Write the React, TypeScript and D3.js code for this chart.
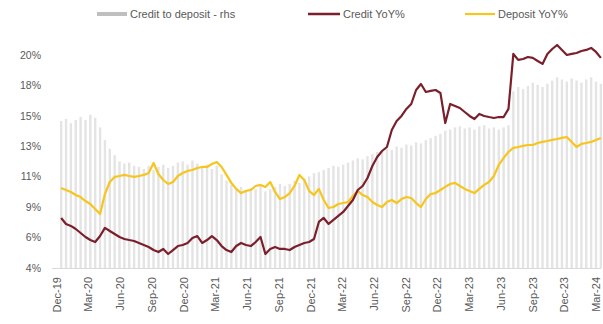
import React from "react";
import * as d3 from "d3";

const W = 603;
const H = 324;

// fortnightly observations starting 13 Dec 2019
const startDate = new Date(2019, 11, 13);

const creditYoY = [
  7.76, 7.31, 7.16, 6.93, 6.63, 6.33, 6.10, 5.95, 6.40, 7.01,
  6.78, 6.55, 6.33, 6.18, 6.10, 6.03, 5.88, 5.73, 5.58, 5.35,
  5.20, 5.43, 5.05, 5.35, 5.65, 5.73, 5.88, 6.25, 6.40, 5.88,
  6.10, 6.40, 6.10, 5.65, 5.35, 5.20, 5.65, 5.88, 5.73, 5.65,
  5.95, 6.33, 5.05, 5.43, 5.58, 5.43, 5.43, 5.35, 5.58, 5.73,
  5.88, 5.95, 6.18, 7.46, 7.76, 7.31, 7.61, 7.91, 8.21, 8.66,
  9.11, 9.86, 10.16, 10.76, 11.66, 12.34, 12.79, 13.09, 14.37, 15.04,
  15.42, 15.95, 16.32, 17.37, 17.82, 17.22, 17.30, 17.37, 17.15, 14.89,
  16.32, 16.17, 16.02, 15.72, 15.42, 15.19, 15.57, 15.42, 15.34, 15.27,
  15.34, 15.34, 15.95, 20.08, 19.63, 19.70, 19.85, 19.78, 19.55, 19.33,
  20.08, 20.45, 20.75, 20.38, 20.00, 20.08, 20.15, 20.30, 20.38, 20.53,
  20.23, 19.78,
];

const depositYoY = [
  10.01, 9.86, 9.71, 9.48, 9.33, 9.03, 8.81, 8.43, 8.06, 9.56,
  10.46, 10.84, 10.91, 10.99, 10.91, 10.84, 10.91, 10.99, 11.14, 11.89,
  11.06, 10.61, 10.31, 10.46, 10.91, 11.14, 11.29, 11.36, 11.51, 11.59,
  11.59, 11.81, 11.96, 11.59, 10.99, 10.39, 9.94, 9.63, 9.79, 9.86,
  10.16, 10.24, 10.09, 10.46, 9.71, 9.18, 9.33, 9.63, 10.16, 10.99,
  10.61, 9.79, 9.48, 9.94, 9.11, 8.51, 8.58, 8.81, 8.88, 8.96,
  9.41, 9.79, 9.48, 9.33, 8.96, 8.73, 8.58, 8.96, 9.11, 8.88,
  9.18, 9.33, 9.26, 8.88, 8.58, 9.18, 9.56, 9.63, 9.86, 10.09,
  10.31, 10.39, 10.16, 9.94, 9.79, 9.63, 9.94, 10.24, 10.46, 10.91,
  11.74, 12.26, 12.72, 13.02, 13.09, 13.17, 13.24, 13.24, 13.39, 13.47,
  13.54, 13.62, 13.69, 13.77, 13.84, 13.47, 13.09, 13.32, 13.39, 13.47,
  13.62, 13.77,
];

const creditToDeposit = [
  75.8, 76.0, 75.6, 75.9, 76.2, 75.9, 76.4, 76.1, 75.2, 74.0,
  73.2, 72.6, 72.0, 71.8, 71.9, 71.6, 71.5, 71.3, 71.6, 71.2,
  71.5, 71.7, 71.4, 71.6, 71.9, 72.0, 71.7, 72.1, 71.8, 71.5,
  71.7, 71.3, 71.6, 70.8, 70.2, 69.8, 69.5, 69.6, 69.3, 69.5,
  69.4, 69.7, 69.2, 69.4, 69.6, 69.9, 69.7, 69.9, 70.2, 70.0,
  70.4, 70.6, 70.9, 71.0, 71.2, 71.4, 71.6, 71.5, 71.7, 71.9,
  72.1, 72.3, 72.2, 72.5, 72.7, 72.9, 73.0, 73.2, 73.1, 73.4,
  73.3, 73.6, 73.5, 73.8, 73.7, 74.0, 74.2, 74.4, 74.6, 74.9,
  75.0, 75.2, 75.3, 75.1, 75.2, 75.0, 75.3, 75.4, 75.1, 75.2,
  75.0, 75.2, 75.4, 78.6, 79.0, 78.8, 79.1, 79.4, 79.2, 79.0,
  79.3, 79.6, 79.9, 79.7, 79.5, 79.8, 79.6, 79.4, 79.7, 79.9,
  79.5, 79.3,
];

const leftTickLabels = ["4%", "6%", "9%", "11%", "13%", "15%", "18%", "20%"];
const xTickLabels = [
  "Dec-19", "Mar-20", "Jun-20", "Sep-20", "Dec-20", "Mar-21", "Jun-21", "Sep-21", "Dec-21",
  "Mar-22", "Jun-22", "Sep-22", "Dec-22", "Mar-23", "Jun-23", "Sep-23", "Dec-23", "Mar-24",
];
const legendItems = ["Credit to deposit - rhs", "Credit YoY%", "Deposit YoY%"];
const colors = { bar: "#e4e4e4", barLegend: "#bfbfbf", credit: "#7b1f2c", deposit: "#f7c51e", text: "#595959" };

export default function App() {
  const dates = creditYoY.map((_, i) => d3.timeDay.offset(startDate, 14 * i));
  const x = d3.scaleTime().domain([new Date(2019, 11, 1), new Date(2024, 2, 1)]).range([57, 596]);
  const yL = d3.scaleLinear().domain([4, 20]).range([268, 55]);
  const yR = d3.scaleLinear().domain([62, 82]).range([268, 55]);

  const leftTicks = d3.range(leftTickLabels.length).map((i) => 4 + (i * 16) / (leftTickLabels.length - 1));
  const parseTick = d3.timeParse("%b-%y");
  const xTicks = xTickLabels.map((s) => parseTick(s) as Date);

  const line = d3
    .line<number>()
    .x((_, i) => x(dates[i]))
    .y((d) => yL(d))
    .curve(d3.curveLinear);

  const barW = 2.4;
  const font = "'Liberation Sans', Arial, sans-serif";

  const legendX = [97, 308, 465];

  return (
    <svg width={W} height={H} style={{ position: "absolute", left: 0, top: 0, background: "#fff" }}>
      <g>
        {creditToDeposit.map((v, i) => (
          <rect
            key={i}
            x={x(dates[i]) - barW / 2}
            y={yR(v)}
            width={barW}
            height={yR(62) - yR(v)}
            fill={colors.bar}
          />
        ))}
      </g>
      <line x1={52} x2={601} y1={268.5} y2={268.5} stroke="#d9d9d9" strokeWidth={1} />
      <path d={line(depositYoY) || ""} fill="none" stroke={colors.deposit} strokeWidth={2.2} strokeLinejoin="round" />
      <path d={line(creditYoY) || ""} fill="none" stroke={colors.credit} strokeWidth={2.2} strokeLinejoin="round" />
      {leftTicks.map((t, i) => (
        <text
          key={i}
          x={41}
          y={yL(t)}
          dy="0.35em"
          textAnchor="end"
          fontFamily={font}
          fontSize={10.5}
          fill={colors.text}
        >
          {leftTickLabels[i]}
        </text>
      ))}
      {xTicks.map((d, i) => (
        <text
          key={i}
          transform={`translate(${x(d)},277) rotate(-90)`}
          dy="0.35em"
          textAnchor="end"
          fontFamily={font}
          fontSize={11}
          fill={colors.text}
        >
          {xTickLabels[i]}
        </text>
      ))}
      <g fontFamily={font} fontSize={11} fill={colors.text}>
        <line x1={legendX[0]} x2={legendX[0] + 30} y1={14} y2={14} stroke={colors.barLegend} strokeWidth={4} />
        <text x={legendX[0] + 33} y={14} dy="0.35em">{legendItems[0]}</text>
        <line x1={legendX[1]} x2={legendX[1] + 32} y1={14} y2={14} stroke={colors.credit} strokeWidth={2.5} />
        <text x={legendX[1] + 35} y={14} dy="0.35em">{legendItems[1]}</text>
        <line x1={legendX[2]} x2={legendX[2] + 30} y1={14} y2={14} stroke={colors.deposit} strokeWidth={2.2} />
        <text x={legendX[2] + 33} y={14} dy="0.35em">{legendItems[2]}</text>
      </g>
    </svg>
  );
}
